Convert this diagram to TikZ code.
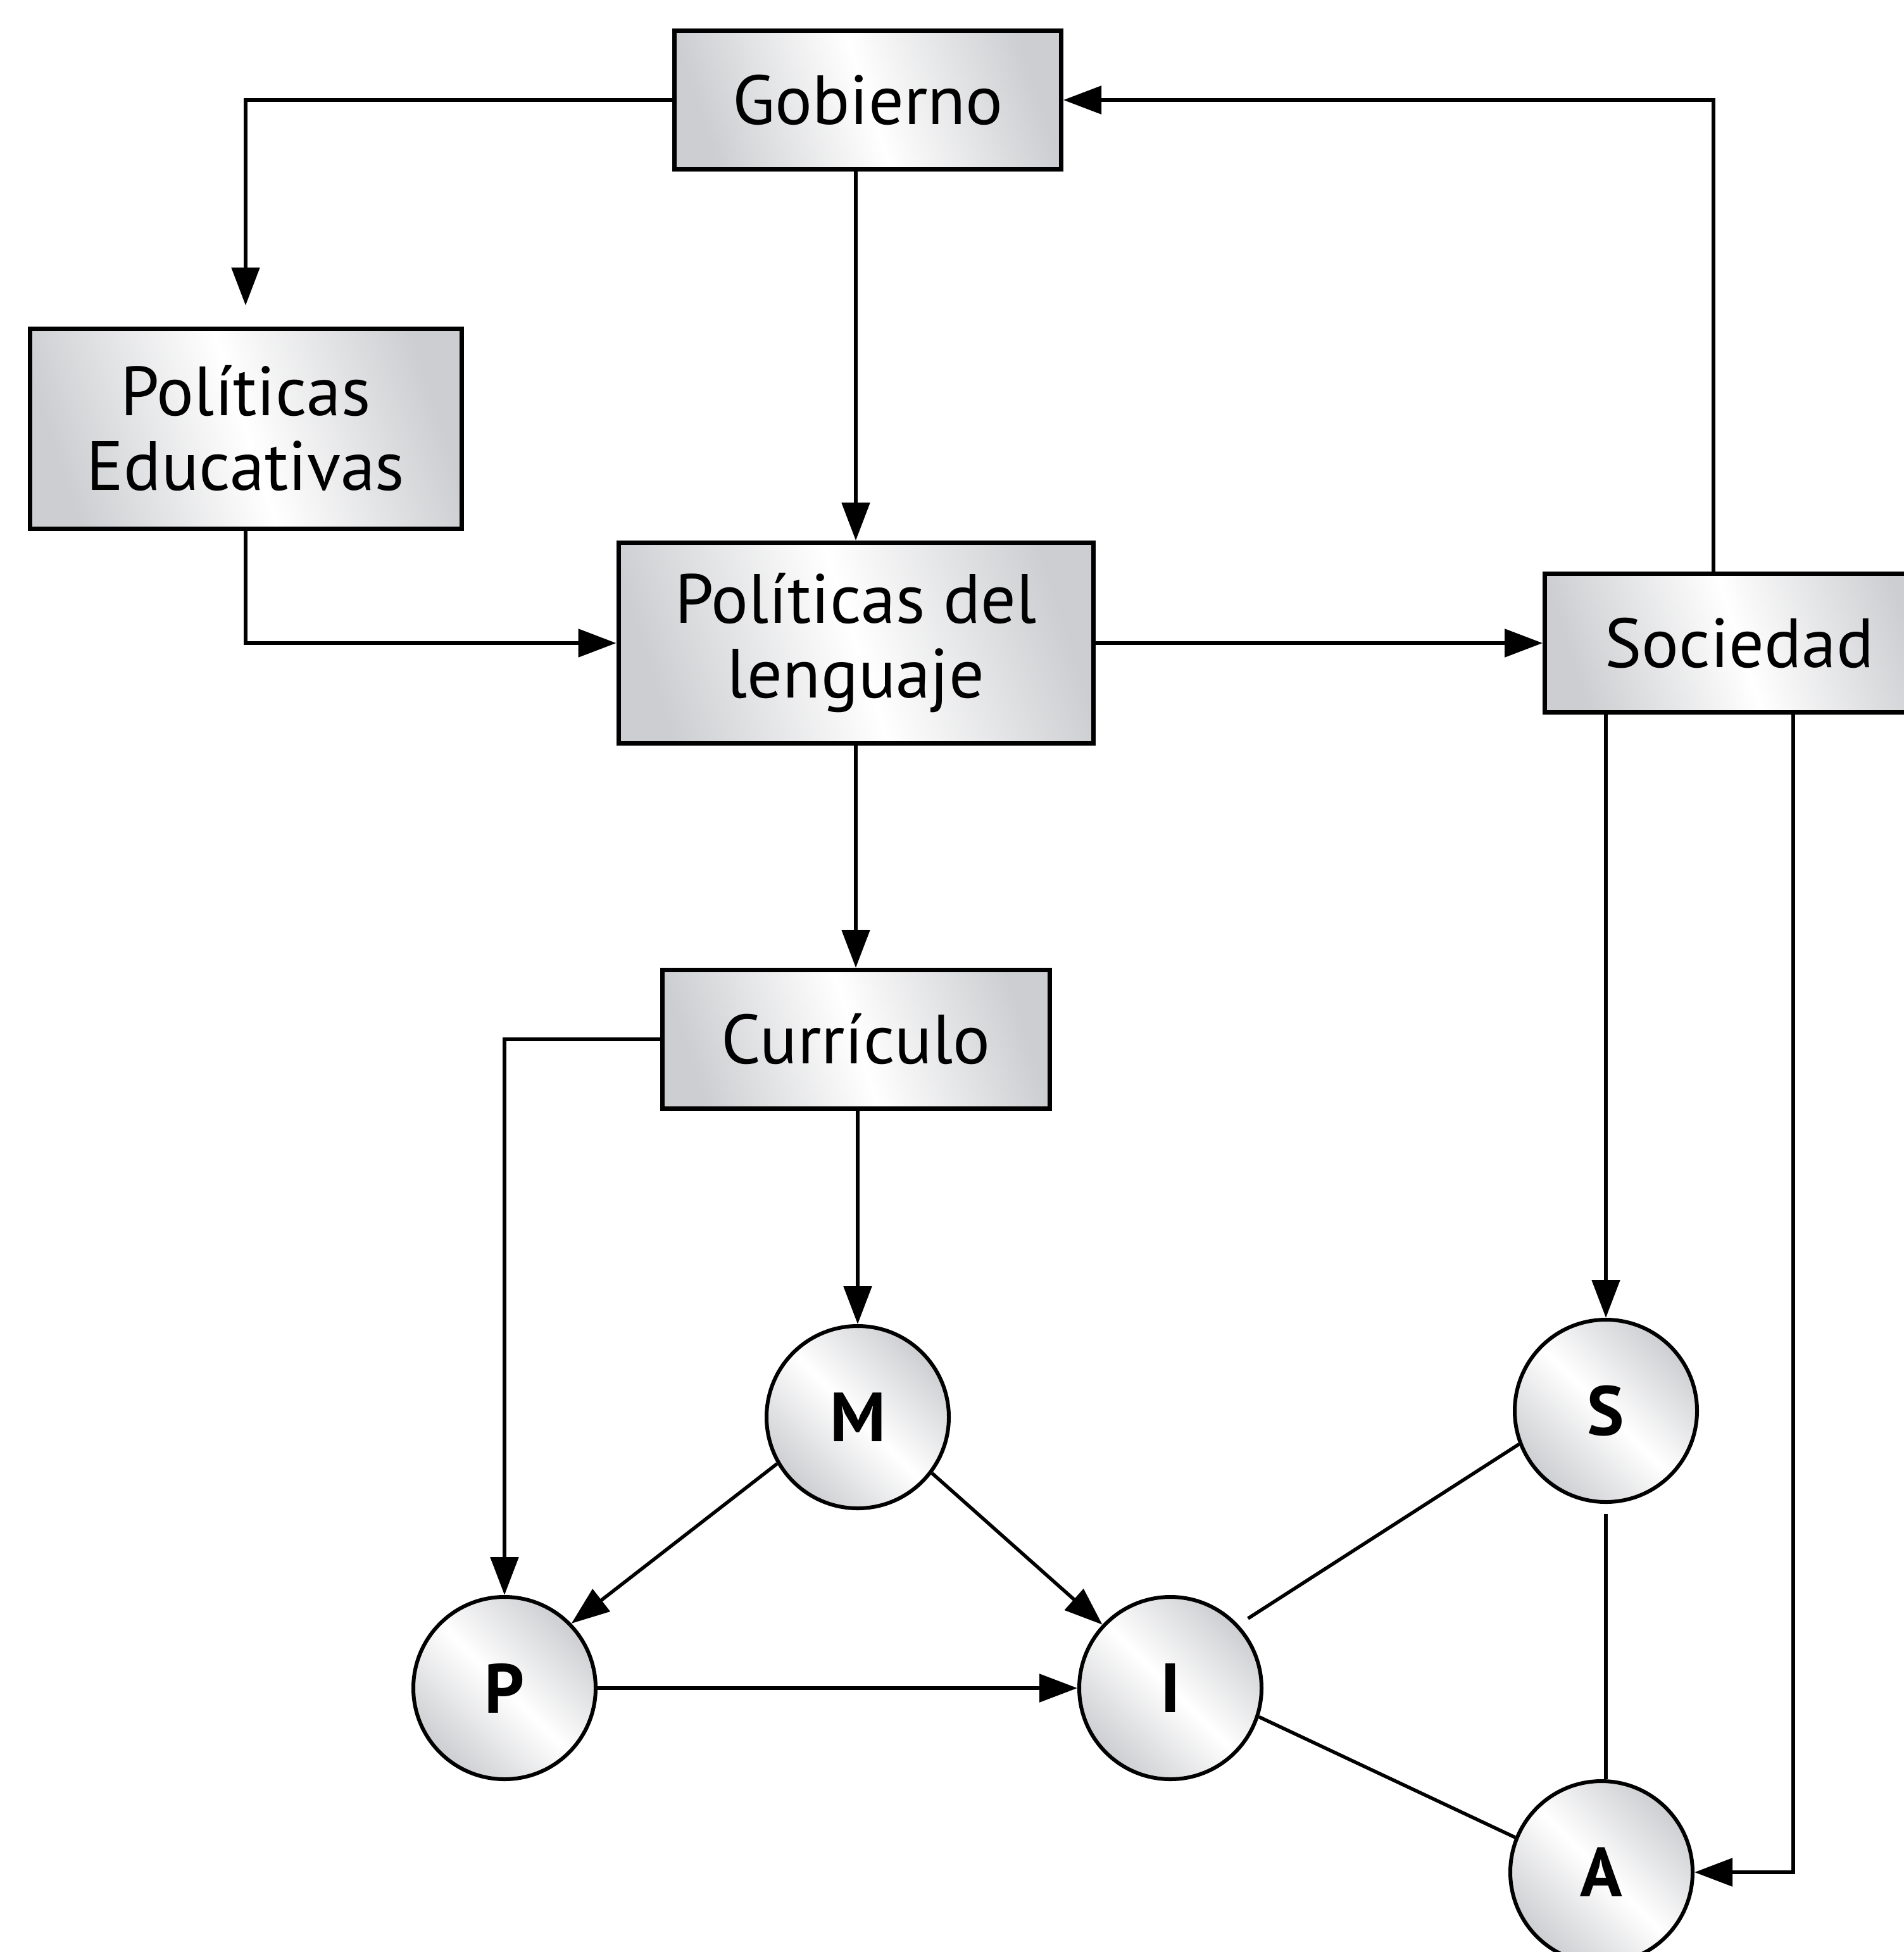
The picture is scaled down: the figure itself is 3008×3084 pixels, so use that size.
\documentclass[tikz,border=0pt]{standalone}
\usepackage{fontspec}
\setmainfont{PT Sans}
\usetikzlibrary{arrows.meta,calc}
\definecolor{shadegray}{RGB}{205,206,209}
\begin{document}
\begin{tikzpicture}[x=1pt,y=-1pt,
  box/.style={draw, line width=7pt, left color=shadegray, right color=shadegray, middle color=white, shading angle=108,
    font=\fontsize{110}{118}\selectfont, align=center, inner sep=0pt},
  circ/.style={draw, circle, line width=6pt, minimum size=288pt, inner sep=0pt,
    left color=shadegray, right color=shadegray, middle color=white, shading angle=135,
    font=\fontsize{110}{110}\selectfont\bfseries},
  conn/.style={line width=5.5pt},
  arr/.style={conn, -{Triangle[length=60pt,width=44pt]}}
]
\useasboundingbox (0,0) rectangle (3008,3084);
\clip (0,0) rectangle (3008,3084);

\node[box, minimum width=611pt, minimum height=219pt] (gob) at (1371,158) {Gobierno};
\node[box, minimum width=682pt, minimum height=316pt] (poled) at (388,677) {Políticas\\Educativas};
\node[box, minimum width=750pt, minimum height=317pt] (pollen) at (1352,1016) {Políticas del\\lenguaje};
\node[box, minimum width=615pt, minimum height=219pt] (soc) at (2748,1016) {Sociedad};
\node[box, minimum width=612pt, minimum height=219pt] (cur) at (1352,1642) {Currículo};

\node[circ] (M) at (1355,2239) {M};
\node[circ] (P) at (797,2667) {P};
\node[circ] (I) at (1849,2667) {I};
\node[circ] (S) at (2537,2229) {S};
\node[circ] (A) at (2530,2958) {A};

\draw[arr, shorten >=33pt] (gob.west) -| (poled.north);
\draw[arr] (pollen.north |- gob.south) -- (pollen.north);
\draw[arr] (poled.south) |- (pollen.west);
\draw[arr] (pollen.east) -- (soc.west);
\draw[arr] ([xshift=-41pt]soc.north) |- (gob.east);
\draw[arr] (pollen.south) -- (cur.north);
\draw[arr] (cur.west) -| (P.north);
\draw[arr] (M.north |- cur.south) -- (M.north);
\draw[arr] (M.210) -- (P.44);
\draw[arr] (M.-37) -- (I.137);
\draw[arr] (P) -- (I);
\draw[conn, shorten >=18pt] (S.201) -- (I.43);
\draw[conn, shorten <=16pt] (S.south) -- (S.south |- A.north);
\draw[conn] (I.-18) -- (A.158);
\draw[arr] (S.north |- soc.south) -- (S.north);
\draw[arr] ([xshift=85pt]soc.south) |- (A.east);
\end{tikzpicture}
\end{document}
